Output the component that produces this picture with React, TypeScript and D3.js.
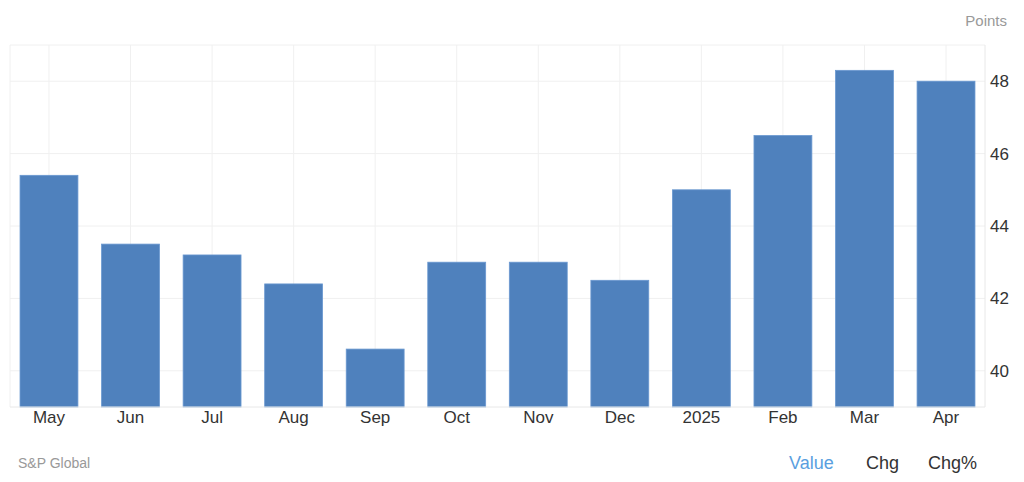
import { useRef, useEffect } from 'react';
import * as d3 from 'd3';

const months = ['May', 'Jun', 'Jul', 'Aug', 'Sep', 'Oct', 'Nov', 'Dec', '2025', 'Feb', 'Mar', 'Apr'];
const values = [45.4, 43.5, 43.2, 42.4, 40.6, 43.0, 43.0, 42.5, 45.0, 46.5, 48.3, 48.0];
const yTicks = [40, 42, 44, 46, 48];
const yGrid = [40, 42, 44, 46, 48, 49];
const tabs = ['Value', 'Chg', 'Chg%'];

export default function App() {
  const svgRef = useRef<SVGSVGElement>(null);

  useEffect(() => {
    const svg = svgRef.current;
    if (!svg) return;

    const width = 1024;
    const height = 482;
    const margin = { top: 45, right: 39, bottom: 75, left: 10 };
    const innerW = width - margin.left - margin.right;
    const innerH = height - margin.top - margin.bottom;

    const svgSel = d3.select(svg);
    svgSel.selectAll('*').remove();
    svgSel.attr('viewBox', `0 0 ${width} ${height}`);

    const font = '"Liberation Sans", Arial, sans-serif';

    const g = svgSel
      .append('g')
      .attr('transform', `translate(${margin.left},${margin.top})`);

    const x = d3.scaleBand<string>().domain(months).range([0, innerW]).paddingInner(0.29).paddingOuter(0.123);
    const y = d3.scaleLinear().domain([39, 49]).range([innerH, 0]);

    // Grid
    g.selectAll('.grid-h')
      .data(yGrid)
      .join('line')
      .attr('x1', 0)
      .attr('x2', innerW)
      .attr('y1', (d) => y(d))
      .attr('y2', (d) => y(d))
      .attr('stroke', '#f0f0f0');

    g.selectAll('.grid-v')
      .data(months)
      .join('line')
      .attr('x1', (d) => (x(d) ?? 0) + x.bandwidth() / 2)
      .attr('x2', (d) => (x(d) ?? 0) + x.bandwidth() / 2)
      .attr('y1', 0)
      .attr('y2', innerH)
      .attr('stroke', '#f0f0f0');

    g.append('line')
      .attr('x1', 0)
      .attr('x2', 0)
      .attr('y1', 0)
      .attr('y2', innerH)
      .attr('stroke', '#f0f0f0');

    g.append('line')
      .attr('x1', innerW)
      .attr('x2', innerW)
      .attr('y1', 0)
      .attr('y2', innerH)
      .attr('stroke', '#e8e8e8');

    // Bars
    g.selectAll('.bar')
      .data(values)
      .join('rect')
      .attr('x', (_, i) => x(months[i]) ?? 0)
      .attr('width', x.bandwidth())
      .attr('y', (d) => y(d))
      .attr('height', (d) => innerH - y(d))
      .attr('fill', '#4f81bd')
      .attr('stroke', '#6a98d0')
      .attr('stroke-width', 0.8);

    g.append('line')
      .attr('x1', 0)
      .attr('x2', innerW)
      .attr('y1', innerH)
      .attr('y2', innerH)
      .attr('stroke', '#e8e8e8');

    // X axis labels
    g.append('g')
      .attr('transform', `translate(0,${innerH})`)
      .call(d3.axisBottom(x).tickSize(0).tickPadding(4))
      .call((sel) => {
        sel.select('.domain').remove();
        sel
          .selectAll('.tick text')
          .attr('fill', '#333')
          .attr('font-size', '17px')
          .attr('font-family', font);
      });

    // Y axis labels
    g.append('g')
      .attr('transform', `translate(${innerW},0)`)
      .call(d3.axisRight(y).tickValues(yTicks).tickSize(0).tickPadding(5))
      .call((sel) => {
        sel.select('.domain').remove();
        sel
          .selectAll('.tick text')
          .attr('fill', '#333')
          .attr('font-size', '17px')
          .attr('font-family', font);
      });

    svgSel
      .append('text')
      .attr('x', 1007)
      .attr('y', 26)
      .attr('text-anchor', 'end')
      .attr('fill', '#999')
      .attr('font-size', '15px')
      .attr('font-family', font)
      .text('Points');

    svgSel
      .append('text')
      .attr('x', 18)
      .attr('y', 468)
      .attr('fill', '#999')
      .attr('font-size', '14px')
      .attr('font-family', font)
      .text('S&P Global');

    // Tabs
    const tabX = [789, 866, 928];
    svgSel
      .selectAll('.tab')
      .data(tabs)
      .join('text')
      .attr('x', (_, i) => tabX[i])
      .attr('y', 469)
      .attr('fill', (_, i) => (i === 0 ? '#5a9fe0' : '#333'))
      .attr('font-size', '18px')
      .attr('font-family', font)
      .text((d) => d);
  }, []);

  return (
    <svg
      ref={svgRef}
      width={1024}
      height={482}
      style={{ display: 'block', position: 'absolute', left: 0, top: 0, background: '#fff' }}
    />
  );
}
